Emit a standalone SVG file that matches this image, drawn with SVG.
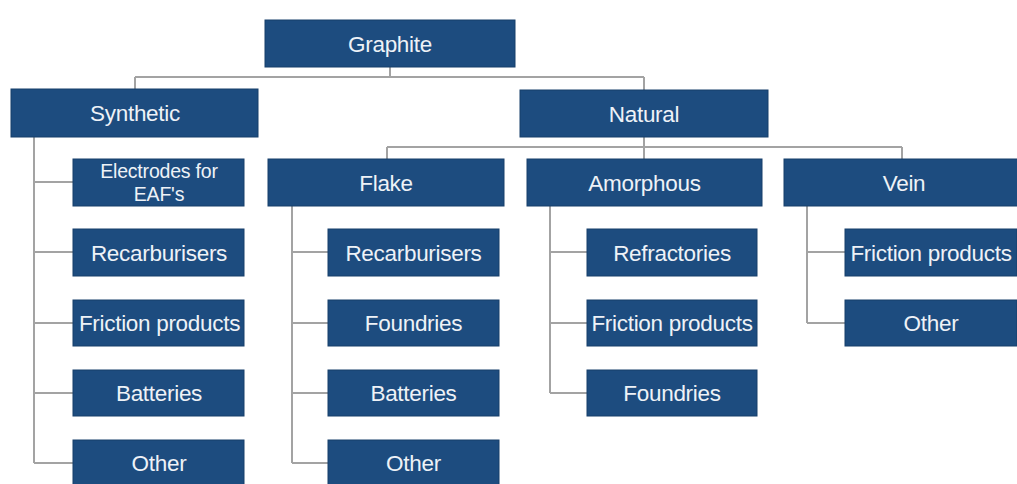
<svg xmlns="http://www.w3.org/2000/svg" width="1017" height="484" viewBox="0 0 1017 484">
<style>
.box{fill:#1d4c7f;stroke:#173f6b;stroke-width:1}
.lbl{font-family:"Liberation Sans",Arial,sans-serif;font-size:22.5px;fill:#eef2f7;text-anchor:middle;letter-spacing:-0.3px}
.sm{font-size:19.5px;letter-spacing:-0.2px}
.con{fill:none;stroke:#a3a3a3;stroke-width:2}
</style>
<rect width="1017" height="484" fill="#ffffff"/>
<g id="connectors">
<path class="con" d="M390,67 V77 M135,77 H644 M135,77 V89 M644,77 V90"/>
<path class="con" d="M644,137 V147 M387,147 H902 M387,147 V159 M644,147 V159 M902,147 V159"/>
<path class="con" d="M34,137 V463 M34,182 H73 M34,252 H73 M34,323 H73 M34,393 H73 M34,463 H73"/>
<path class="con" d="M292,206 V463 M292,252 H328 M292,323 H328 M292,393 H328 M292,463 H328"/>
<path class="con" d="M550,206 V393 M550,252 H587 M550,323 H587 M550,393 H587"/>
<path class="con" d="M807,206 V323 M807,252 H845 M807,323 H845"/>
</g>
<g id="graphite"><rect class="box" x="265" y="20" width="250" height="47"/><text class="lbl" x="390" y="51.5">Graphite</text></g>
<g id="synthetic"><rect class="box" x="11" y="89" width="247" height="48"/><text class="lbl" x="135" y="121">Synthetic</text></g>
<g id="natural"><rect class="box" x="520" y="90" width="248" height="47"/><text class="lbl" x="644" y="121.5">Natural</text></g>
<g id="flake"><rect class="box" x="268" y="159" width="236" height="47"/><text class="lbl" x="386" y="190.5">Flake</text></g>
<g id="amorphous"><rect class="box" x="527" y="159" width="235" height="47"/><text class="lbl" x="644.5" y="190.5">Amorphous</text></g>
<g id="vein"><rect class="box" x="784" y="159" width="236" height="47"/><text class="lbl" x="904" y="190.5">Vein</text></g>
<g id="syn-electrodes"><rect class="box" x="73" y="159" width="171" height="47"/><text class="lbl sm" x="159" y="178">Electrodes for</text><text class="lbl sm" x="159" y="201">EAF's</text></g>
<g id="syn-recarburisers"><rect class="box" x="73" y="229" width="171" height="47"/><text class="lbl" x="159" y="260.5">Recarburisers</text></g>
<g id="syn-friction"><rect class="box" x="73" y="300" width="171" height="46"/><text class="lbl" x="159.5" y="331">Friction products</text></g>
<g id="syn-batteries"><rect class="box" x="73" y="370" width="171" height="46"/><text class="lbl" x="159" y="401">Batteries</text></g>
<g id="syn-other"><rect class="box" x="73" y="440" width="171" height="46"/><text class="lbl" x="159" y="471">Other</text></g>
<g id="flake-recarburisers"><rect class="box" x="328" y="229" width="171" height="47"/><text class="lbl" x="413.5" y="260.5">Recarburisers</text></g>
<g id="flake-foundries"><rect class="box" x="328" y="300" width="171" height="46"/><text class="lbl" x="413.5" y="331">Foundries</text></g>
<g id="flake-batteries"><rect class="box" x="328" y="370" width="171" height="46"/><text class="lbl" x="413.5" y="401">Batteries</text></g>
<g id="flake-other"><rect class="box" x="328" y="440" width="171" height="46"/><text class="lbl" x="413.5" y="471">Other</text></g>
<g id="amo-refractories"><rect class="box" x="587" y="229" width="170" height="47"/><text class="lbl" x="672" y="260.5">Refractories</text></g>
<g id="amo-friction"><rect class="box" x="587" y="300" width="170" height="46"/><text class="lbl" x="672" y="331">Friction products</text></g>
<g id="amo-foundries"><rect class="box" x="587" y="370" width="170" height="46"/><text class="lbl" x="672" y="401">Foundries</text></g>
<g id="vein-friction"><rect class="box" x="845" y="229" width="172" height="47"/><text class="lbl" x="931" y="260.5">Friction products</text></g>
<g id="vein-other"><rect class="box" x="845" y="300" width="172" height="46"/><text class="lbl" x="931" y="331">Other</text></g>
</svg>
